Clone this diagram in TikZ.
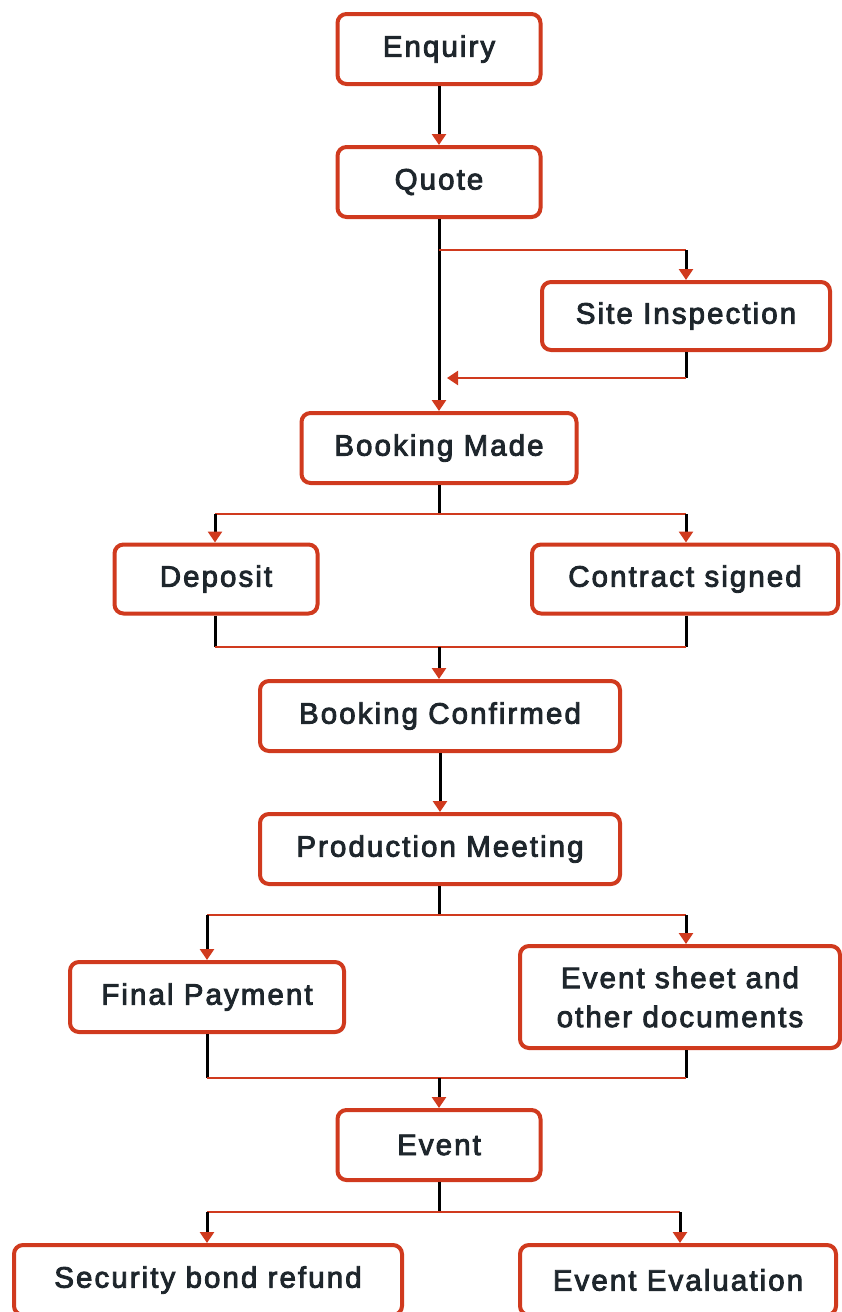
\documentclass[tikz,border=0pt]{standalone}
\usepackage{fontspec}
\setmainfont[FakeBold=3,LetterSpace=7]{Liberation Sans}
\usetikzlibrary{arrows.meta,shadows}
\definecolor{boxred}{HTML}{D03A1E}
\definecolor{txt}{HTML}{1E262C}
\tikzset{
  box/.style={draw=boxred, line width=4pt, rounded corners=9pt, fill=white,
    minimum height=70pt, inner sep=0pt, align=center, text=txt,
    font=\fontsize{29.5}{39}\selectfont,
    drop shadow={opacity=0.35, shadow xshift=1.5pt, shadow yshift=-1.5pt}},
  vline/.style={draw=black, line width=3pt},
  hline/.style={draw=boxred, line width=2.2pt},
  arr/.style={-{Triangle[color=boxred,width=14pt,length=11pt]}}
}
\begin{document}
\begin{tikzpicture}[x=1pt,y=-1pt]
\useasboundingbox (0,0) rectangle (842,1312);
% nodes
\node[box, minimum width=203pt] (enq) at (439,49) {Enquiry};
\node[box, minimum width=203pt] (quo) at (439,182) {Quote};
\node[box, minimum width=288pt, minimum height=68pt] (site) at (686,316) {Site Inspection};
\node[box, minimum width=275pt] (bm) at (439,448) {Booking Made};
\node[box, minimum width=203pt, minimum height=69pt] (dep) at (216,579) {Deposit};
\node[box, minimum width=306pt, minimum height=69pt] (con) at (685,579) {Contract signed};
\node[box, minimum width=360pt] (bc) at (440,716) {Booking Confirmed};
\node[box, minimum width=360pt] (pm) at (440,849) {Production Meeting};
\node[box, minimum width=274pt] (fp) at (207,997) {Final Payment};
\node[box, minimum width=320pt, minimum height=102pt] (es) at (680,997) {Event sheet and\\other documents};
\node[box, minimum width=203pt] (ev) at (439,1145) {Event};
\node[box, minimum width=388pt] (sb) at (208,1280) {Security bond refund};
\node[box, minimum width=316pt] (ee) at (678,1280) {Event Evaluation};
% coordinates
\coordinate (q1) at (439,250);
\coordinate (s1) at (686,250);
\coordinate (s2) at (686,378);
\coordinate (r2) at (447,378);
\coordinate (b1) at (439,514);
\coordinate (bl) at (215,514);
\coordinate (br) at (686,514);
\coordinate (d2) at (215,647);
\coordinate (c2) at (686,647);
\coordinate (m2) at (439,647);
\coordinate (p1) at (439,915);
\coordinate (pl) at (207,915);
\coordinate (pr) at (686,915);
\coordinate (f2) at (207,1078);
\coordinate (e2) at (686,1078);
\coordinate (m3) at (439,1078);
\coordinate (v1) at (439,1212);
\coordinate (vl) at (207,1212);
\coordinate (vr) at (680,1212);
% connectors
\draw[vline, arr] (enq.south) -- (quo.north);
\draw[vline, arr] (quo.south) -- (quo.south |- bm.north);
\draw[hline] (q1) -- (s1);
\draw[vline, arr] (s1) -- (s1 |- site.north);
\draw[vline] (s2 |- site.south) -- (s2);
\draw[hline, arr] (s2) -- (r2);
\draw[vline] (b1 |- bm.south) -- (b1);
\draw[hline] (bl) -- (br);
\draw[vline, arr] (bl) -- (bl |- dep.north);
\draw[vline, arr] (br) -- (br |- con.north);
\draw[vline] (d2 |- dep.south) -- (d2);
\draw[vline] (c2 |- con.south) -- (c2);
\draw[hline] (d2) -- (c2);
\draw[vline, arr] (m2) -- (m2 |- bc.north);
\draw[vline, arr] (bc.south) -- (bc.south |- pm.north);
\draw[vline] (p1 |- pm.south) -- (p1);
\draw[hline] (pl) -- (pr);
\draw[vline, arr] (pl) -- (pl |- fp.north);
\draw[vline, arr] (pr) -- (pr |- es.north);
\draw[vline] (f2 |- fp.south) -- (f2);
\draw[vline] (e2 |- es.south) -- (e2);
\draw[hline] (f2) -- (e2);
\draw[vline, arr] (m3) -- (m3 |- ev.north);
\draw[vline] (v1 |- ev.south) -- (v1);
\draw[hline] (vl) -- (vr);
\draw[vline, arr] (vl) -- (vl |- sb.north);
\draw[vline, arr] (vr) -- (vr |- ee.north);
\end{tikzpicture}
\end{document}
